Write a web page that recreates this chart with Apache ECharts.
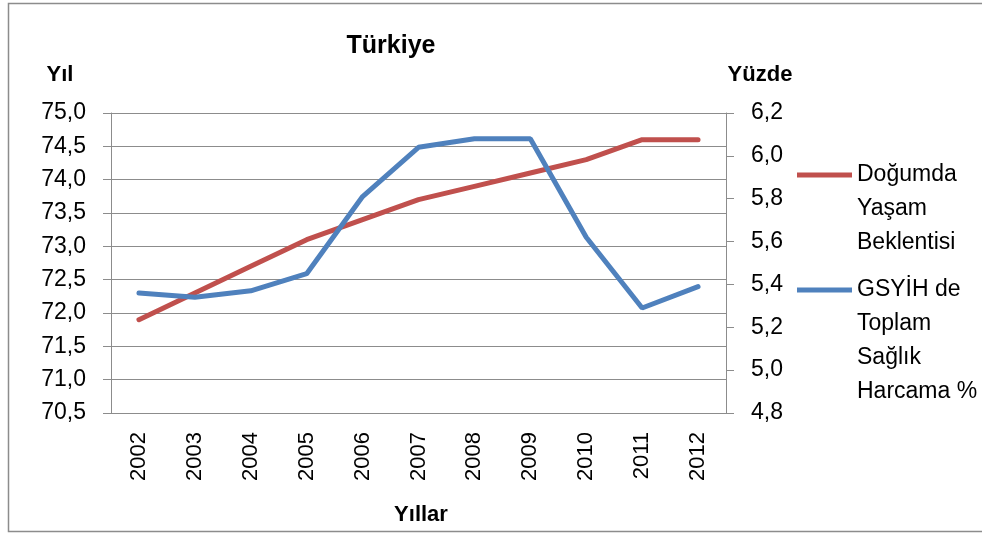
<!DOCTYPE html>
<html>
<head>
<meta charset="utf-8">
<script src="https://cdn.jsdelivr.net/npm/echarts@6/dist/echarts.min.js"></script>
<style>
  html, body { margin: 0; padding: 0; background: #fff; }
  #chart { width: 982px; height: 533px; }
</style>
</head>
<body>
<div id="chart"></div>
<script>
var years = ['2002', '2003', '2004', '2005', '2006', '2007', '2008', '2009', '2010', '2011', '2012'];
// Doğumda yaşam beklentisi (yıl), left axis
var lifeExpectancy = [71.9, 72.3, 72.7, 73.1, 73.4, 73.7, 73.9, 74.1, 74.3, 74.6, 74.6];
// GSYİH de toplam sağlık harcaması (%), right axis
var healthSpending = [5.36, 5.34, 5.37, 5.45, 5.81, 6.04, 6.08, 6.08, 5.62, 5.29, 5.39];

var nameLife = 'Doğumda\nYaşam\nBeklentisi';
var nameHealth = 'GSYİH de\nToplam\nSağlık\nHarcama %';

var font = 'Liberation Sans, Arial, sans-serif';
var gridColor = '#8c8c8c';

function comma(v, d) {
    return v.toFixed(d).replace('.', ',');
}

// legend text is centred on the icon, so pad with empty lines
// to put the first line next to the line sample, as Excel does
function legendItem(name, top) {
    var extra = name.split('\n').length - 1;
    var pad = '';
    for (var i = 0; i < extra; i++) pad += '\n';
    return {
        data: [name],
        orient: 'vertical',
        left: 797, top: top,
        padding: 0,
        icon: 'rect',
        itemWidth: 55, itemHeight: 5,
        formatter: function (n) { return pad + n; },
        textStyle: { fontSize: 23, lineHeight: 34, color: '#000', fontFamily: font }
    };
}

var dom = document.getElementById('chart');
var myChart = echarts.init(dom);
var option = {
    backgroundColor: '#fff',
    animation: false,
    textStyle: { fontFamily: font },
    grid: { left: 111, top: 113, right: 256, bottom: 120 },
    legend: [
        legendItem(nameLife, 90),
        legendItem(nameHealth, 171)
    ],
    xAxis: {
        type: 'category',
        data: years,
        boundaryGap: true,
        axisLine: { lineStyle: { color: gridColor, width: 1 } },
        axisTick: { length: 8, lineStyle: { color: gridColor } },
        axisLabel: { rotate: 90, margin: 19, fontSize: 22, color: '#000', fontFamily: font }
    },
    yAxis: [
        {
            type: 'value',
            min: 70.5, max: 75, interval: 0.5,
            axisLine: { show: true, lineStyle: { color: gridColor } },
            axisTick: { show: true, length: 8, lineStyle: { color: gridColor } },
            splitLine: { lineStyle: { color: gridColor, width: 1.2 } },
            axisLabel: {
                margin: 25, fontSize: 23, color: '#000', fontFamily: font,
                formatter: function (v) { return comma(v, 1); }
            }
        },
        {
            type: 'value',
            min: 4.8, max: 6.2, interval: 0.2,
            position: 'right',
            axisLine: { show: true, lineStyle: { color: gridColor } },
            axisTick: { show: true, length: 8, lineStyle: { color: gridColor } },
            splitLine: { show: false },
            axisLabel: {
                margin: 25, fontSize: 23, color: '#000', fontFamily: font,
                formatter: function (v) { return comma(v, 1); }
            }
        }
    ],
    series: [
        {
            name: nameLife,
            type: 'line',
            yAxisIndex: 0,
            data: lifeExpectancy,
            symbol: 'none',
            color: '#C0504D',
            lineStyle: { width: 5, color: '#C0504D', cap: 'round' }
        },
        {
            name: nameHealth,
            type: 'line',
            yAxisIndex: 1,
            data: healthSpending,
            symbol: 'none',
            color: '#4F81BD',
            lineStyle: { width: 5, color: '#4F81BD', cap: 'round' }
        }
    ],
    graphic: [
        {
            type: 'rect', silent: true, z: -1,
            shape: { x: 8.5, y: 3.5, width: 990, height: 528 },
            style: { fill: 'none', stroke: '#8c8c8c', lineWidth: 1.5 }
        },
        {
            type: 'text', x: 391, y: 46,
            style: { text: 'Türkiye', font: 'bold 25px ' + font, fill: '#000', align: 'center', verticalAlign: 'middle' }
        },
        {
            type: 'text', x: 60, y: 75,
            style: { text: 'Yıl', font: 'bold 22px ' + font, fill: '#000', align: 'center', verticalAlign: 'middle' }
        },
        {
            type: 'text', x: 760, y: 75,
            style: { text: 'Yüzde', font: 'bold 22px ' + font, fill: '#000', align: 'center', verticalAlign: 'middle' }
        },
        {
            type: 'text', x: 421, y: 515,
            style: { text: 'Yıllar', font: 'bold 22px ' + font, fill: '#000', align: 'center', verticalAlign: 'middle' }
        }
    ]
};

if (option && typeof option === 'object') {
    myChart.setOption(option, true);
}
</script>
</body>
</html>
